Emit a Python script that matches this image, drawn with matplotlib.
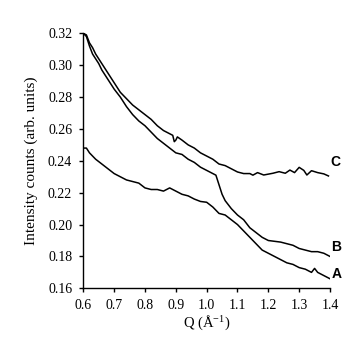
import matplotlib
matplotlib.use("Agg")
import matplotlib.pyplot as plt
from matplotlib.ticker import FormatStrFormatter

plt.rcParams["mathtext.fontset"] = "custom"
plt.rcParams["mathtext.rm"] = "Liberation Serif"
plt.rcParams["mathtext.it"] = "Liberation Serif:italic"
plt.rcParams["mathtext.default"] = "regular"

# Scattering curves: intensity vs. momentum transfer Q
q_a = [0.600, 0.610, 0.620, 0.640, 0.660, 0.680, 0.700, 0.720, 0.740, 0.760,
       0.780, 0.800, 0.820, 0.840, 0.860, 0.870, 0.880, 0.900, 0.920, 0.940,
       0.960, 0.980, 1.000, 1.020, 1.040, 1.060, 1.080, 1.100, 1.120, 1.140,
       1.160, 1.180, 1.200, 1.220, 1.240, 1.260, 1.280, 1.300, 1.320, 1.340,
       1.350, 1.360, 1.380, 1.400]
i_a = [0.248, 0.248, 0.245, 0.241, 0.238, 0.235, 0.232, 0.230, 0.228, 0.227,
       0.226, 0.223, 0.222, 0.222, 0.221, 0.222, 0.223, 0.221, 0.219, 0.218,
       0.216, 0.2145, 0.214, 0.211, 0.207, 0.206, 0.203, 0.200, 0.196, 0.192,
       0.188, 0.184, 0.182, 0.180, 0.178, 0.176, 0.175, 0.173, 0.172, 0.170,
       0.1725, 0.170, 0.168, 0.166]

q_b = [0.600, 0.610, 0.620, 0.630, 0.640, 0.650, 0.660, 0.670, 0.680, 0.690,
       0.700, 0.720, 0.740, 0.760, 0.780, 0.800, 0.820, 0.840, 0.860, 0.880,
       0.900, 0.920, 0.940, 0.960, 0.980, 1.000, 1.020, 1.030, 1.040, 1.050,
       1.060, 1.080, 1.100, 1.120, 1.140, 1.160, 1.180, 1.200, 1.220, 1.240,
       1.260, 1.280, 1.300, 1.320, 1.340, 1.360, 1.380, 1.400]
i_b = [0.320, 0.318, 0.312, 0.307, 0.304, 0.301, 0.297, 0.294, 0.291, 0.288,
       0.285, 0.280, 0.274, 0.269, 0.265, 0.262, 0.258, 0.254, 0.251, 0.248,
       0.245, 0.244, 0.241, 0.239, 0.236, 0.234, 0.232, 0.231, 0.225, 0.219,
       0.215, 0.210, 0.206, 0.203, 0.198, 0.195, 0.192, 0.190, 0.1895, 0.189,
       0.188, 0.187, 0.185, 0.184, 0.183, 0.183, 0.182, 0.180]

q_c = [0.600, 0.610, 0.620, 0.630, 0.640, 0.650, 0.660, 0.670, 0.680, 0.690,
       0.700, 0.710, 0.720, 0.730, 0.740, 0.750, 0.760, 0.780, 0.800, 0.820,
       0.840, 0.860, 0.880, 0.890, 0.895, 0.900, 0.905, 0.920, 0.940, 0.960,
       0.980, 1.000, 1.020, 1.040, 1.060, 1.080, 1.100, 1.120, 1.140, 1.150,
       1.165, 1.185, 1.215, 1.235, 1.255, 1.270, 1.285, 1.300, 1.315, 1.325,
       1.340, 1.360, 1.380, 1.395]
i_c = [0.320, 0.319, 0.314, 0.311, 0.307, 0.304, 0.301, 0.298, 0.295, 0.292,
       0.289, 0.286, 0.283, 0.281, 0.279, 0.277, 0.275, 0.272, 0.269, 0.266,
       0.262, 0.259, 0.257, 0.256, 0.252, 0.253, 0.255, 0.253, 0.250, 0.248,
       0.245, 0.243, 0.241, 0.238, 0.237, 0.235, 0.233, 0.232, 0.232, 0.231,
       0.2326, 0.2311, 0.2322, 0.2332, 0.2322, 0.2342, 0.2326, 0.2359, 0.2340, 0.2311,
       0.2338, 0.2326, 0.2318, 0.2305]

curve_names = ["A", "B", "C"]
x_ticks = [0.6, 0.7, 0.8, 0.9, 1.0, 1.1, 1.2, 1.3, 1.4]
y_ticks = [0.16, 0.18, 0.20, 0.22, 0.24, 0.26, 0.28, 0.30, 0.32]

serif = "Liberation Serif"

fig = plt.figure(figsize=(3.52, 3.40), dpi=100)
ax = fig.add_axes([0.2367, 0.152, 0.7008, 0.750])

for q, i in [(q_a, i_a), (q_b, i_b), (q_c, i_c)]:
    ax.plot(q, i, color="black", lw=1.1)

# curve labels just past the right end of each curve
for name, q, i, dy in zip(curve_names, [q_a, q_b, q_c], [i_a, i_b, i_c],
                          [0.003, 0.006, 0.009]):
    ax.text(q[-1] + 0.005, i[-1] + dy, name, fontsize=10, fontweight="bold",
            family="Liberation Sans", ha="left", va="center", clip_on=False)

ax.set_xlim(0.6, 1.4)
ax.set_ylim(0.16, 0.32)
ax.set_xticks(x_ticks)
ax.set_yticks(y_ticks)
ax.xaxis.set_major_formatter(FormatStrFormatter("%.1f"))
ax.yaxis.set_major_formatter(FormatStrFormatter("%.2f"))

for side in ("top", "right"):
    ax.spines[side].set_visible(False)
for side in ("left", "bottom"):
    ax.spines[side].set_linewidth(1.0)

ax.tick_params(direction="out", length=3, width=1.0, pad=5, labelsize=10)
for lbl in ax.get_xticklabels() + ax.get_yticklabels():
    lbl.set_family(serif)

ax.set_xlabel("Q (Å$^{-1}$)", family=serif, fontsize=10.5, labelpad=1)
ax.set_ylabel("Intensity counts (arb. units)", family=serif, fontsize=11, labelpad=7)

fig.savefig("out.png", dpi=100)
